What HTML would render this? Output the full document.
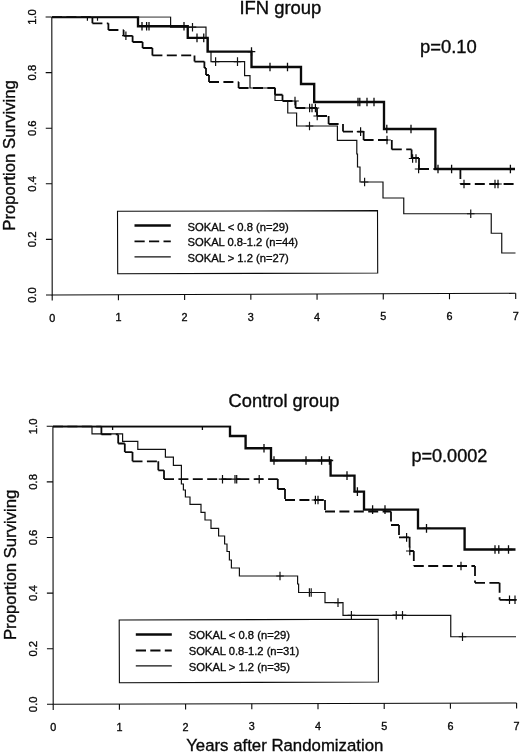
<!DOCTYPE html>
<html><head><meta charset="utf-8"><title>Survival by SOKAL score</title>
<style>
html,body{margin:0;padding:0;background:#fff}
svg{display:block}
text{font-family:"Liberation Sans",sans-serif;fill:#0a0a0a;stroke:#0a0a0a;stroke-width:0.35px}
.tk{font-size:10.8px}
.lg{font-size:11.6px}
.ti{font-size:18px}
.ax{font-size:16.8px}
</style></head><body>
<svg width="520" height="752" viewBox="0 0 520 752">
<rect width="520" height="752" fill="#fff"/>
<defs><clipPath id="c1"><rect x="51.5" y="16.2" width="464.6" height="280"/></clipPath><clipPath id="c2"><rect x="52.5" y="425.4" width="464.5" height="280"/></clipPath></defs>
<g fill="none" stroke="#0a0a0a" stroke-linecap="butt">
<path d="M51.8,17L52.2,295L515.7,293.3" stroke-width="1.1"/>
<path d="M52.2,295v5.6M118.414,294.757v5.6M184.629,294.514v5.6M250.843,294.271v5.6M317.057,294.029v5.6M383.271,293.786v5.6M449.486,293.543v5.6M515.7,293.3v5.6M52.2,295h-6.2M52.12,239.4h-6.2M52.04,183.8h-6.2M51.96,128.2h-6.2M51.88,72.6h-6.2M51.8,17h-6.2" stroke-width="1.1"/>
<text x="52.2" y="321.6" text-anchor="middle" class="tk">0</text>
<text x="118.414" y="321.357" text-anchor="middle" class="tk">1</text>
<text x="184.629" y="321.114" text-anchor="middle" class="tk">2</text>
<text x="250.843" y="320.871" text-anchor="middle" class="tk">3</text>
<text x="317.057" y="320.629" text-anchor="middle" class="tk">4</text>
<text x="383.271" y="320.386" text-anchor="middle" class="tk">5</text>
<text x="449.486" y="320.143" text-anchor="middle" class="tk">6</text>
<text x="515.7" y="319.9" text-anchor="middle" class="tk">7</text>
<text transform="translate(36.1,295) rotate(-90)" text-anchor="middle" class="tk" textLength="15.7" lengthAdjust="spacingAndGlyphs">0.0</text>
<text transform="translate(36.02,239.4) rotate(-90)" text-anchor="middle" class="tk" textLength="15.7" lengthAdjust="spacingAndGlyphs">0.2</text>
<text transform="translate(35.94,183.8) rotate(-90)" text-anchor="middle" class="tk" textLength="15.7" lengthAdjust="spacingAndGlyphs">0.4</text>
<text transform="translate(35.86,128.2) rotate(-90)" text-anchor="middle" class="tk" textLength="15.7" lengthAdjust="spacingAndGlyphs">0.6</text>
<text transform="translate(35.78,72.6) rotate(-90)" text-anchor="middle" class="tk" textLength="15.7" lengthAdjust="spacingAndGlyphs">0.8</text>
<text transform="translate(35.7,17) rotate(-90)" text-anchor="middle" class="tk" textLength="15.7" lengthAdjust="spacingAndGlyphs">1.0</text>
<g clip-path="url(#c1)">
<path d="M52,17 H170.6 V27.2 H206 V38 H208 V51.5 H211 V61.6 H244.6 V75.6 H250 V88 H275 V100.5 H287.75 V113 H296.6 V126 H337.4 V140.4 H356.8 V154 H357.5 V167 H360 V182 H383 V198 H403.75 V213.75 H491.25 V233.25 H501.75 V253 H515.5" stroke-width="1.2" stroke="#111"/>
<path d="M192.5,22.9V31.5M188.7,27.2H196.3M215.6,57.3V65.9M211.8,61.6H219.4M237.5,57.3V65.9M233.7,61.6H241.3M309.5,121.7V130.3M305.7,126H313.3M364.6,177.7V186.3M360.8,182H368.4M470.75,209.45V218.05M466.95,213.75H474.55M97.5,17V20.8" stroke-width="1.2" stroke="#111"/>
<path d="M52,17H92.4M92.4,17V23.3M92.4,23.3H108.4M108.4,23.3V30M108.4,30H123.6M123.6,30V35.8M123.6,35.8H132.6M132.6,35.8V42M132.6,42H142.6M142.6,42V48M142.6,48H152.4M152.4,48V55.4M152.4,55.4H194.5M194.5,55.4V61.6M194.5,61.6H204.4M204.4,61.6V68M204.4,68H206M206,68V75M206,75H209M209,75V82M209,82H238.6M238.6,82V88M238.6,88H275M275,88V94.75M275,94.75H282.5M282.5,94.75V101M282.5,101H295.6M295.6,101V108M295.6,108H317M317,108V116M317,116H328.6M328.6,116V124M328.6,124H343M343,124V131.6M343,131.6H363.6M363.6,131.6V140M363.6,140H391.8M391.8,140V149.4M391.8,149.4H411.6M411.6,149.4V158M411.6,158H419M419,158V169M419,169H460.4M460.4,169V184M460.4,184H515" stroke-width="1.8" stroke-dasharray="10 4.4"/>
<path d="M125.9,31.4V40M122.1,35.7H129.7M295,96.7V105.3M291.2,101H298.8M309.6,103.7V112.3M305.8,108H313.4M312,103.7V112.3M308.2,108H315.8M315.4,103.7V112.3M311.6,108H319.2M317.2,111.7V120.3M313.4,116H321M360.6,127.3V135.9M356.8,131.6H364.4M387,135.7V144.3M383.2,140H390.8M412.6,154.2V162.8M408.8,158.5H416.4M416,154.2V162.8M412.2,158.5H419.8M418.6,164.7V173.3M414.8,169H422.4M464,179.7V188.3M460.2,184H467.8M495,179.7V188.3M491.2,184H498.8M498,179.7V188.3M494.2,184H501.8M87.4,17V20.8" stroke-width="1.2"/>
<path d="M52,17 H138 V26.2 H187.75 V37.9 H207.6 V51.6 H251.5 V67 H301 V84 H314.2 V102 H384 V129 H435.4 V169 H515" stroke-width="2.35" stroke-linejoin="miter"/>
<path d="M142,21.9V30.5M138.2,26.2H145.8M146.6,21.9V30.5M142.8,26.2H150.4M149,21.9V30.5M145.2,26.2H152.8M184,21.9V30.5M180.2,26.2H187.8M197,33.6V42.2M193.2,37.9H200.8M203.75,33.6V42.2M199.95,37.9H207.55M251.5,47.3V55.9M247.7,51.6H255.3M270,62.7V71.3M266.2,67H273.8M287.5,62.7V71.3M283.7,67H291.3M358,97.7V106.3M354.2,102H361.8M359.8,97.7V106.3M356,102H363.6M367,97.7V106.3M363.2,102H370.8M374,97.7V106.3M370.2,102H377.8M386.8,124.7V133.3M383,129H390.6M411,124.7V133.3M407.2,129H414.8M438,164.7V173.3M434.2,169H441.8M451.6,164.7V173.3M447.8,169H455.4M510.4,164.7V173.3M506.6,169H514.2" stroke-width="1.3"/>
</g>
<path d="M52.9,426.3L53.2,704.3L516.6,703" stroke-width="1.1"/>
<path d="M53.2,704.3v5.6M119.4,704.114v5.6M185.6,703.929v5.6M251.8,703.743v5.6M318,703.557v5.6M384.2,703.371v5.6M450.4,703.186v5.6M516.6,703v5.6M53.2,704.3h-6.2M53.14,648.7h-6.2M53.08,593.1h-6.2M53.02,537.5h-6.2M52.96,481.9h-6.2M52.9,426.3h-6.2" stroke-width="1.1"/>
<text x="53.2" y="730.9" text-anchor="middle" class="tk">0</text>
<text x="119.4" y="730.714" text-anchor="middle" class="tk">1</text>
<text x="185.6" y="730.529" text-anchor="middle" class="tk">2</text>
<text x="251.8" y="730.343" text-anchor="middle" class="tk">3</text>
<text x="318" y="730.157" text-anchor="middle" class="tk">4</text>
<text x="384.2" y="729.971" text-anchor="middle" class="tk">5</text>
<text x="450.4" y="729.786" text-anchor="middle" class="tk">6</text>
<text x="516.6" y="729.6" text-anchor="middle" class="tk">7</text>
<text transform="translate(37.1,704.3) rotate(-90)" text-anchor="middle" class="tk" textLength="15.7" lengthAdjust="spacingAndGlyphs">0.0</text>
<text transform="translate(37.04,648.7) rotate(-90)" text-anchor="middle" class="tk" textLength="15.7" lengthAdjust="spacingAndGlyphs">0.2</text>
<text transform="translate(36.98,593.1) rotate(-90)" text-anchor="middle" class="tk" textLength="15.7" lengthAdjust="spacingAndGlyphs">0.4</text>
<text transform="translate(36.92,537.5) rotate(-90)" text-anchor="middle" class="tk" textLength="15.7" lengthAdjust="spacingAndGlyphs">0.6</text>
<text transform="translate(36.86,481.9) rotate(-90)" text-anchor="middle" class="tk" textLength="15.7" lengthAdjust="spacingAndGlyphs">0.8</text>
<text transform="translate(36.8,426.3) rotate(-90)" text-anchor="middle" class="tk" textLength="15.7" lengthAdjust="spacingAndGlyphs">1.0</text>
<g clip-path="url(#c2)">
<path d="M53,426.3 H92 V433.8 H122.6 V441.4 H137.8 V449.4 H165.4 V457.2 H173.4 V465.4 H181.4 V484 H183.4 V490 H185.4 V497 H190 V504.4 H201 V512.4 H205 V520 H211 V528.4 H218.6 V536 H224.6 V544 H227 V551.5 H229.4 V560 H231.4 V568 H239.4 V576 H297.6 V584 H298.6 V592.5 H325 V602.6 H343 V615.4 H450.75 V636.75 H516" stroke-width="1.2" stroke="#111"/>
<path d="M280,571.7V580.3M276.2,576H283.8M309.4,588.2V596.8M305.6,592.5H313.2M311.2,588.2V596.8M307.4,592.5H315M338,598.3V606.9M334.2,602.6H341.8M351.4,611.1V619.7M347.6,615.4H355.2M396.25,610.9V619.5M392.45,615.2H400.05M402.5,610.9V619.5M398.7,615.2H406.3M462.5,632.45V641.05M458.7,636.75H466.3" stroke-width="1.2" stroke="#111"/>
<path d="M53,426.3H101.4M101.4,426.3V434.4M101.4,434.4H118.2M118.2,434.4V443.5M118.2,443.5H124.8M124.8,443.5V452.1M124.8,452.1H132.5M132.5,452.1V461.3M132.5,461.3H158.3M158.3,461.3V470.3M158.3,470.3H164M164,470.3V479.1M164,479.1H239.3M239.3,479.1H277.8M277.8,479.1V489M277.8,489H285M285,489V500M285,500H325M325,500V511.5M325,511.5H391M391,511.5V525M391,525H399M399,525V537.4M399,537.4H409.6M409.6,537.4V551M409.6,551H413.8M413.8,551V566M413.8,566H475M475,566V582.8M475,582.8H499.6M499.6,582.8V599.8M499.6,599.8H509.5M509.5,599.8H516" stroke-width="1.8" stroke-dasharray="10 4.4"/>
<path d="M222.5,474.9V483.5M218.7,479.2H226.3M235,474.9V483.5M231.2,479.2H238.8M236.7,474.9V483.5M232.9,479.2H240.5M259.2,474.9V483.5M255.4,479.2H263M315.4,495.7V504.3M311.6,500H319.2M318,495.7V504.3M314.2,500H321.8M406.6,533.1V541.7M402.8,537.4H410.4M409.8,546.7V555.3M406,551H413.6M461,561.7V570.3M457.2,566H464.8M509.5,595.5V604.1M505.7,599.8H513.3M515,595.5V604.1M511.2,599.8H518.8" stroke-width="1.2"/>
<path d="M53,426.3 H230 V436 H245.6 V448.2 H271 V460.5 H330.6 V475.6 H354.5 V491.6 H364 V509.6 H418 V528.4 H464.6 V549.5 H515.5" stroke-width="2.35" stroke-linejoin="miter"/>
<path d="M264,443.9V452.5M260.2,448.2H267.8M274,456.2V464.8M270.2,460.5H277.8M306,456.2V464.8M302.2,460.5H309.8M321.6,456.2V464.8M317.8,460.5H325.4M329.4,456.2V464.8M325.6,460.5H333.2M347,471.3V479.9M343.2,475.6H350.8M357.4,487.3V495.9M353.6,491.6H361.2M372.6,505.3V513.9M368.8,509.6H376.4M385,505.3V513.9M381.2,509.6H388.8M426.5,524.1V532.7M422.7,528.4H430.3M495,545.2V553.8M491.2,549.5H498.8M498.8,545.2V553.8M495,549.5H502.6M508.5,545.2V553.8M504.7,549.5H512.3M112.6,426.3V430.1M202.4,426.3V430.1" stroke-width="1.3"/>
</g>
</g>
<g fill="#0a0a0a" stroke="none">
</g>
<g fill="none" stroke="#0a0a0a">
<path d="M117.5,211.29999999999998L377.5,210.6L377.7,273L117.7,273.7Z" stroke-width="1.1"/>
<path d="M134.5,225.5H170.8" stroke-width="2.35"/>
<path d="M134.5,241.3H170.8" stroke-width="1.8" stroke-dasharray="10.2 4.3"/>
<path d="M134.5,256.8H170.8" stroke-width="1.2" stroke="#111"/>
<text x="187.5" y="230.8" class="lg" textLength="101.3" lengthAdjust="spacingAndGlyphs">SOKAL &lt; 0.8 (n=29)</text>
<text x="187.5" y="246.4" class="lg" textLength="110.6" lengthAdjust="spacingAndGlyphs">SOKAL 0.8-1.2 (n=44)</text>
<text x="187.5" y="262" class="lg" textLength="101.3" lengthAdjust="spacingAndGlyphs">SOKAL &gt; 1.2 (n=27)</text>
<path d="M119.2,620.0L378.2,619.3L378.4,682L119.4,682.7Z" stroke-width="1.1"/>
<path d="M135.8,634.5H171.8" stroke-width="2.35"/>
<path d="M135.8,650.5H171.8" stroke-width="1.8" stroke-dasharray="10.2 4.3"/>
<path d="M135.8,665.8H171.8" stroke-width="1.2" stroke="#111"/>
<text x="188.7" y="639.2" class="lg" textLength="101.3" lengthAdjust="spacingAndGlyphs">SOKAL &lt; 0.8 (n=29)</text>
<text x="188.7" y="655.2" class="lg" textLength="110.6" lengthAdjust="spacingAndGlyphs">SOKAL 0.8-1.2 (n=31)</text>
<text x="188.7" y="670.8" class="lg" textLength="101.3" lengthAdjust="spacingAndGlyphs">SOKAL &gt; 1.2 (n=35)</text>
</g>
<text x="239.4" y="13.8" class="ti" textLength="82" lengthAdjust="spacingAndGlyphs">IFN group</text>
<text x="228.6" y="407" class="ti" textLength="110.8" lengthAdjust="spacingAndGlyphs">Control group</text>
<text x="420" y="53.3" class="ti" textLength="56.8" lengthAdjust="spacingAndGlyphs">p=0.10</text>
<text x="411.4" y="462" class="ti" textLength="76" lengthAdjust="spacingAndGlyphs">p=0.0002</text>
<text transform="translate(14.8,230.75) rotate(-90)" class="ax" textLength="150.6" lengthAdjust="spacingAndGlyphs">Proportion Surviving</text>
<text transform="translate(15.6,640.05) rotate(-90)" class="ax" textLength="150.4" lengthAdjust="spacingAndGlyphs">Proportion Surviving</text>
<text x="186.2" y="750.5" class="ax" textLength="197.2" lengthAdjust="spacingAndGlyphs">Years after Randomization</text>
</svg>
</body></html>
